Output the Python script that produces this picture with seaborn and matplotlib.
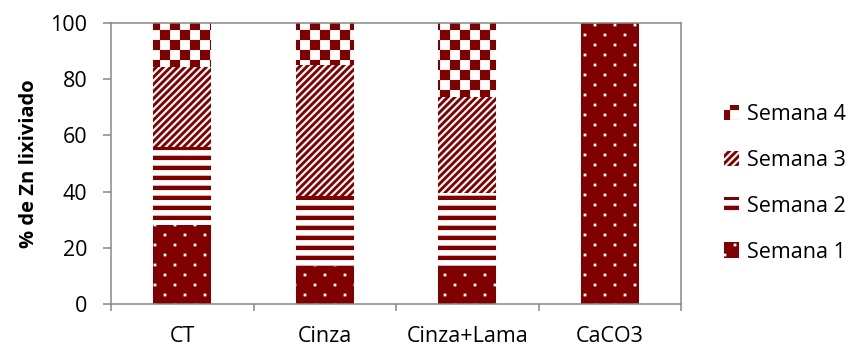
import numpy as np
import matplotlib
matplotlib.use("Agg")
import matplotlib.pyplot as plt
import matplotlib.hatch as mhatch
from matplotlib.path import Path
from matplotlib.patches import Patch
import seaborn as sns

# Share of leached zinc per week (% of total), one value per treatment
categories = ["CT", "Cinza", "Cinza+Lama", "CaCO3"]
weeks = ["Semana 1", "Semana 2", "Semana 3", "Semana 4"]
semana_1 = [28.0, 13.5, 13.0, 100.0]
semana_2 = [28.0, 25.0, 26.5, 0.0]
semana_3 = [28.5, 46.5, 34.0, 0.0]
semana_4 = [15.5, 15.0, 26.5, 0.0]
y_ticks = [0, 20, 40, 60, 80, 100]

MAROON = "#800000"
AXIS_GREY = "#878787"


# ---- filled-tile hatch patterns (checker, thick diagonals, bands, dots) ----
class _PolygonHatch(mhatch.HatchPatternBase):
    key = ""
    filled = True

    def __init__(self, hatch, density):
        self.polys = self.polygons() if hatch and self.key in hatch else []
        self.num_vertices = 5 * len(self.polys)

    def polygons(self):
        return []

    def set_vertices_and_codes(self, vertices, codes):
        for i, poly in enumerate(self.polys):
            j = 5 * i
            vertices[j:j + 4] = poly
            vertices[j + 4] = poly[0]
            codes[j] = Path.MOVETO
            codes[j + 1:j + 4] = Path.LINETO
            codes[j + 4] = Path.CLOSEPOLY


def _rect(x0, y0, x1, y1):
    return [(x0, y0), (x1, y0), (x1, y1), (x0, y1)]


class CheckerHatch(_PolygonHatch):
    key = "+"

    def polygons(self):
        n = 10
        s = 1.0 / n
        return [_rect(i * s, j * s, (i + 1) * s, (j + 1) * s)
                for i in range(n) for j in range(n) if (i + j) % 2 == 0]


class DiagonalHatch(_PolygonHatch):
    key = "/"

    def polygons(self):
        n = 14
        w = 0.55 / n
        e = 0.05
        out = []
        for k in range(-n - 1, n + 2):
            a = k / n
            out.append([(a - e, -e), (a + w - e, -e),
                        (a + w + 1 + e, 1 + e), (a + 1 + e, 1 + e)])
        return out


class StripeHatch(_PolygonHatch):
    key = "-"

    def polygons(self):
        n = 10
        t = 0.42 / n
        return [_rect(-0.05, i / n, 1.05, i / n + t) for i in range(n)]


class DotHatch(_PolygonHatch):
    key = "."

    def polygons(self):
        rows, cols, h = 10, 5, 0.013
        out = []
        for r in range(rows):
            y = (r + 0.5) / rows
            for c in range(cols):
                x = (c + 0.25 + 0.5 * (r % 2)) / cols
                out.append(_rect(x - h, y - h, x + h, y + h))
        return out


mhatch._hatch_types = [CheckerHatch, DiagonalHatch, StripeHatch, DotHatch]

# ---- styling ----
sns.set_theme(style="white")
plt.rcParams["font.family"] = ["Open Sans", "DejaVu Sans"]
plt.rcParams["hatch.linewidth"] = 0.1
plt.rcParams["text.color"] = "black"
plt.rcParams["axes.labelcolor"] = "black"
plt.rcParams["xtick.color"] = "black"
plt.rcParams["ytick.color"] = "black"

FS = 15.5
styles = {
    "Semana 1": (MAROON, "white", "."),
    "Semana 2": ("white", MAROON, "-"),
    "Semana 3": ("white", MAROON, "/"),
    "Semana 4": ("white", MAROON, "+"),
}

fig = plt.figure(figsize=(8.53, 3.48), dpi=100)
ax = fig.add_axes([111 / 853, 44 / 348, 570 / 853, 281 / 348])

# stacked bars: draw cumulative totals from the top segment down
stack = np.array([semana_1, semana_2, semana_3, semana_4])
tops = stack.cumsum(axis=0)
for idx in reversed(range(len(weeks))):
    face, hcol, pat = styles[weeks[idx]]
    before = len(ax.patches)
    sns.barplot(x=categories, y=tops[idx], order=categories, color=face,
                saturation=1, width=0.41, errorbar=None, linewidth=0, ax=ax)
    for bar in ax.patches[before:]:
        bar.set_facecolor(face)
        bar.set_edgecolor(hcol)
        bar.set_hatch(pat)
        bar.set_linewidth(0)

ax.set_xlim(-0.5, len(categories) - 0.5)
ax.set_ylim(0, 100)
ax.set_yticks(y_ticks)
ax.set_yticklabels([str(t) for t in y_ticks], fontsize=FS)
ax.set_xticks(np.arange(-0.5, len(categories), 1.0))
ax.set_xticklabels([])
ax.set_xticks(range(len(categories)), minor=True)
ax.set_xticklabels(categories, minor=True, fontsize=FS)
ax.set_xlabel("")
ax.tick_params(axis="x", which="major", bottom=True, direction="out",
               length=5, width=1.1, color=AXIS_GREY)
ax.tick_params(axis="x", which="minor", bottom=True, length=0, pad=16)
ax.tick_params(axis="y", left=True, direction="out", length=6, width=1.1,
               color=AXIS_GREY, pad=11)
for spine in ax.spines.values():
    spine.set_color(AXIS_GREY)
    spine.set_linewidth(1.1)
ax.set_ylabel("% de Zn lixiviado", fontsize=FS - 1, fontweight="bold", labelpad=8)

handles = []
for week in reversed(weeks):
    face, hcol, pat = styles[week]
    handles.append(Patch(facecolor=face, edgecolor=hcol, hatch=pat,
                         linewidth=0, label=week))
fig.legend(handles=handles, loc="center left", bbox_to_anchor=(724 / 853, 0.473),
           frameon=False, fontsize=FS, handlelength=0.7, handleheight=0.7,
           handletextpad=0.35, labelspacing=1.15, borderpad=0, borderaxespad=0)

fig.savefig("out.png", dpi=100)
